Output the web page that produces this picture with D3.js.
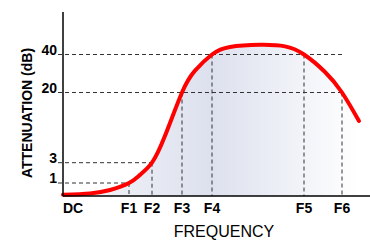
<!DOCTYPE html>
<html>
<head>
<meta charset="utf-8">
<script src="https://cdn.jsdelivr.net/npm/d3@7"></script>
<style>
  body { margin: 0; background: #fff; }
  text { font-family: "Liberation Sans", Arial, sans-serif; }
</style>
</head>
<body>
<div id="chart"></div>
<script>
// Data
const freq_labels = ['DC', 'F1', 'F2', 'F3', 'F4', 'F5', 'F6'];
const freq_values = [0, 6.6, 8.9, 11.9, 14.9, 24.1, 27.9];
const db_ticks = [1, 3, 20, 40];
// which frequency each dB guide line runs to
const db_guide_to = ['F1', 'F2', 'F6', 'F6'];
// dB value of the curve at each marked frequency (F1..F6)
const marker_db = [1, 3, 20, 40, 40, 20];

// the response curve
const curve_freq = [0, 2.7, 4.7, 6.6, 7.7, 8.9, 10.2, 11.9, 13.2, 14.9, 16.7, 19.7, 22.2, 24.1, 26.2, 27.9, 29.6];
const curve_db   = [0.1, 0.2, 0.46, 1, 1.8, 3, 9.5, 20, 31.5, 40, 43.9, 45, 44.2, 40, 30.8, 20, 13.1];

const chart_width = 370;
const chart_height = 240;

// Scales
const x_scale = d3.scaleLinear()
    .domain([0, 30.7])
    .range([63, 370]);

// attenuation axis is not linear: piecewise between the marked levels
const y_scale = d3.scaleLinear()
    .domain([0, 1, 3, 20, 40, 62])
    .range([196, 183, 162.7, 92.5, 54.5, 12]);

const fx = name => x_scale(freq_values[freq_labels.indexOf(name)]);

// Create SVG Element
const svg = d3.select('#chart')
    .append('svg')
    .attr('width', chart_width)
    .attr('height', chart_height);

// Gradient
const grad = svg.append('defs')
    .append('linearGradient')
    .attr('id', 'fill_grad')
    .attr('gradientUnits', 'userSpaceOnUse')
    .attr('x1', x_scale(0)).attr('x2', x_scale(29.6))
    .attr('y1', 0).attr('y2', 0);
grad.append('stop').attr('offset', '0%').attr('stop-color', '#f6f7fa');
grad.append('stop').attr('offset', '50%').attr('stop-color', '#dde1ee');
grad.append('stop').attr('offset', '100%').attr('stop-color', '#ffffff');

const points = curve_freq.map((f, i) => [f, curve_db[i]]);

// Area under curve
const area = d3.area()
    .x(d => x_scale(d[0]))
    .y0(y_scale(0))
    .y1(d => y_scale(d[1]))
    .curve(d3.curveNatural);

svg.append('path')
    .datum(points)
    .attr('d', area)
    .attr('fill', 'url(#fill_grad)');

// Guide lines
const guides = svg.append('g')
    .attr('stroke', '#333')
    .attr('stroke-width', 1)
    .attr('stroke-dasharray', '4,3');

guides.selectAll('.h')
    .data(db_ticks)
    .enter()
    .append('line')
    .attr('x1', x_scale(0) - 5)
    .attr('x2', (d, i) => fx(db_guide_to[i]))
    .attr('y1', d => y_scale(d))
    .attr('y2', d => y_scale(d));

guides.selectAll('.v')
    .data(marker_db)
    .enter()
    .append('line')
    .attr('x1', (d, i) => x_scale(freq_values[i + 1]))
    .attr('x2', (d, i) => x_scale(freq_values[i + 1]))
    .attr('y1', d => y_scale(d))
    .attr('y2', y_scale(0));

// Curve
const line = d3.line()
    .x(d => x_scale(d[0]))
    .y(d => y_scale(d[1]))
    .curve(d3.curveNatural);

svg.append('path')
    .datum(points)
    .attr('d', line)
    .attr('fill', 'none')
    .attr('stroke', '#ff0000')
    .attr('stroke-width', 4)
    .attr('stroke-linecap', 'round');

// Axes
svg.append('line')
    .attr('x1', x_scale(0)).attr('x2', x_scale(0))
    .attr('y1', y_scale(62)).attr('y2', y_scale(0))
    .attr('stroke', '#000').attr('stroke-width', 1.5);

svg.append('line')
    .attr('x1', x_scale(0)).attr('x2', x_scale(30.7))
    .attr('y1', y_scale(0)).attr('y2', y_scale(0))
    .attr('stroke', '#000').attr('stroke-width', 1.5);

// Tick labels
svg.selectAll('.ylab')
    .data(db_ticks)
    .enter()
    .append('text')
    .attr('x', x_scale(0) - 6)
    .attr('y', d => y_scale(d))
    .attr('text-anchor', 'end')
    .attr('font-size', 14)
    .attr('font-weight', 'bold')
    .text(d => d);

svg.selectAll('.xlab')
    .data(freq_labels)
    .enter()
    .append('text')
    .attr('x', (d, i) => x_scale(freq_values[i]) + (i === 0 ? 10 : 0))
    .attr('y', 213)
    .attr('text-anchor', 'middle')
    .attr('font-size', 14)
    .attr('font-weight', 'bold')
    .text(d => d);

// Axis titles
svg.append('text')
    .attr('x', 224)
    .attr('y', 237)
    .attr('text-anchor', 'middle')
    .attr('font-size', 16)
    .text('FREQUENCY');

svg.append('text')
    .attr('transform', 'translate(32,113) rotate(-90)')
    .attr('text-anchor', 'middle')
    .attr('font-size', 14)
    .attr('font-weight', 'bold')
    .text('ATTENUATION (dB)');
</script>
</body>
</html>
